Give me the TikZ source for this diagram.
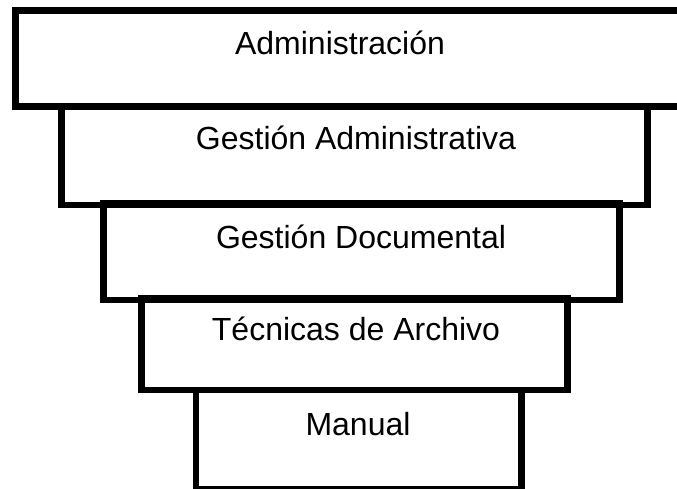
\documentclass[tikz,border=0pt]{standalone}
\usepackage{fontspec}
\setmainfont{Liberation Sans}
\begin{document}
\begin{tikzpicture}[x=1pt,y=-1pt,
  tier/.style={rectangle,draw,line width=6.7pt,inner sep=0pt,outer sep=0pt},
  tiertext/.style={anchor=base,font=\fontsize{32}{38}\selectfont}]
\useasboundingbox (0,0) rectangle (677,489);
\node[tier,minimum width=684.5pt,minimum height=96pt] (admin) at (357.75,58.5) {};
\node[tier,minimum width=585.8pt,minimum height=98.5pt] (gadmin) at (354.6,155.75) {};
\node[tier,minimum width=516pt,minimum height=96.5pt] (gdoc) at (361.7,251.75) {};
\node[tier,minimum width=426pt,minimum height=92pt] (tecnicas) at (354.7,344) {};
\node[tier,minimum width=325.7pt,minimum height=99pt] (manual) at (358.85,439.5) {};
\node[tiertext] (admintext) at (340,55) {Administración};
\node[tiertext] (gadmintext) at (356,150) {Gestión Administrativa};
\node[tiertext] (gdoctext) at (361,248) {Gestión Documental};
\node[tiertext] (tecnicastext) at (356,340) {Técnicas de Archivo};
\node[tiertext] (manualtext) at (358,435) {Manual};
\end{tikzpicture}
\end{document}
